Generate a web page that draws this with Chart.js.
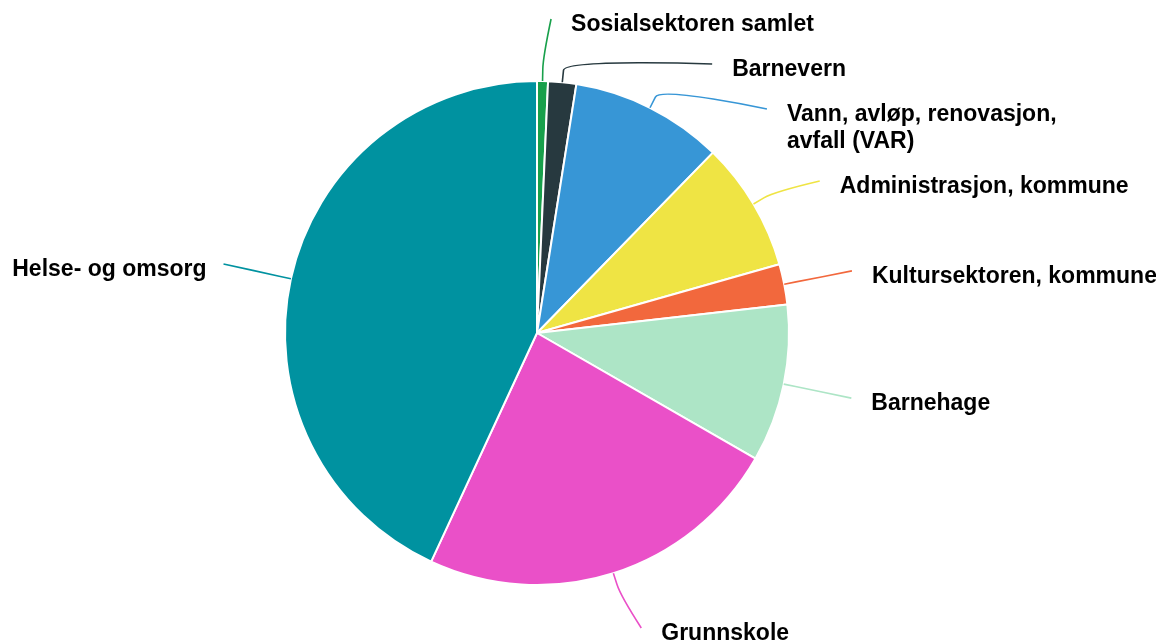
<!DOCTYPE html>
<html>
<head>
<meta charset="utf-8">
<script src="https://cdn.jsdelivr.net/npm/chart.js@4"></script>
<style>
  html, body { margin: 0; padding: 0; background: #fff; }
  #wrap { width: 1156px; height: 643px; }
</style>
</head>
<body>
<div id="wrap"><canvas id="chart" width="1156" height="643"></canvas></div>
<script>
// Categories (clockwise from 12 o'clock)
const categories = [
    'Sosialsektoren samlet',
    'Barnevern',
    ['Vann, avløp, renovasjon,', 'avfall (VAR)'],
    'Administrasjon, kommune',
    'Kultursektoren, kommune',
    'Barnehage',
    'Grunnskole',
    'Helse- og omsorg'
];

// Share of total (%)
const shares = [0.7, 1.8, 9.8, 8.3, 2.6, 10.1, 23.6, 43.1];

const sliceColors = [
    '#18a04b', '#27393f', '#3796d6', '#efe444',
    '#f2683d', '#ade5c6', '#ea50c8', '#0092a0'
];

// Highcharts-like outside labels with soft connectors
const outsideLabels = {
    id: 'outsideLabels',
    afterDatasetsDraw(chart) {
        const ctx = chart.ctx;
        const arcs = chart.getDatasetMeta(0).data;
        const lineH = 27;
        const gap = 45;
        const extra = 69;
        const topY = 19;
        const bottomY = 628;

        const items = arcs.map((arc, i) => {
            const mid = (arc.startAngle + arc.endAngle) / 2;
            const R = arc.outerRadius + extra;
            const lines = Array.isArray(categories[i]) ? categories[i] : [categories[i]];
            return {
                i, arc, mid, R, lines,
                right: Math.cos(mid) >= 0,
                idealX: arc.x + R * Math.cos(mid),
                idealY: arc.y + R * Math.sin(mid)
            };
        });

        // push crowded labels apart, per side
        [true, false].forEach(side => {
            const list = items.filter(it => it.right === side).sort((a, b) => a.idealY - b.idealY);
            let prev = null;
            list.forEach(it => {
                let y = Math.max(it.idealY, topY);
                if (prev) y = Math.max(y, prev.y + gap + lineH * (prev.lines.length - 1));
                it.y = Math.min(y, bottomY);
                prev = it;
            });
        });

        items.forEach(it => {
            const { arc, mid, R } = it;
            const dir = it.right ? 1 : -1;
            let x;
            const shifted = Math.abs(it.y - it.idealY);
            if (shifted <= 12) {
                // clamped at the edge of the plot: nudge outward a little
                x = it.idealX + dir * (shifted > 3 ? 7 : 0);
            } else {
                const dy = it.y - arc.y;
                x = arc.x + dir * Math.sqrt(Math.max(R * R - dy * dy, 0));
            }
            const ex = arc.x + arc.outerRadius * Math.cos(mid);
            const ey = arc.y + arc.outerRadius * Math.sin(mid);
            const bx = arc.x + (arc.outerRadius + 12) * Math.cos(mid);
            const by = arc.y + (arc.outerRadius + 12) * Math.sin(mid);

            ctx.save();
            ctx.strokeStyle = sliceColors[it.i];
            ctx.lineWidth = 1.6;
            ctx.beginPath();
            ctx.moveTo(x, it.y);
            ctx.bezierCurveTo(x, it.y, 2 * bx - ex, 2 * by - ey, bx, by);
            ctx.lineTo(ex, ey);
            ctx.stroke();

            ctx.fillStyle = '#000';
            ctx.font = 'bold 23px "Liberation Sans", Arial, sans-serif';
            ctx.textBaseline = 'middle';
            ctx.textAlign = it.right ? 'left' : 'right';
            const tx = it.right ? x + 20 : x - 17;
            it.lines.forEach((line, k) => {
                ctx.fillText(line, tx, it.y + 6 + k * lineH);
            });
            ctx.restore();
        });
    }
};

new Chart(document.getElementById('chart'), {
    type: 'pie',
    data: {
        labels: categories,
        datasets: [{
            data: shares,
            backgroundColor: sliceColors,
            borderColor: '#ffffff',
            borderWidth: 2
        }]
    },
    options: {
        responsive: false,
        animation: false,
        layout: {
            padding: { top: 80, bottom: 57, left: 100, right: 182 }
        },
        plugins: {
            legend: { display: false },
            tooltip: { enabled: false }
        }
    },
    plugins: [outsideLabels]
});
</script>
</body>
</html>
